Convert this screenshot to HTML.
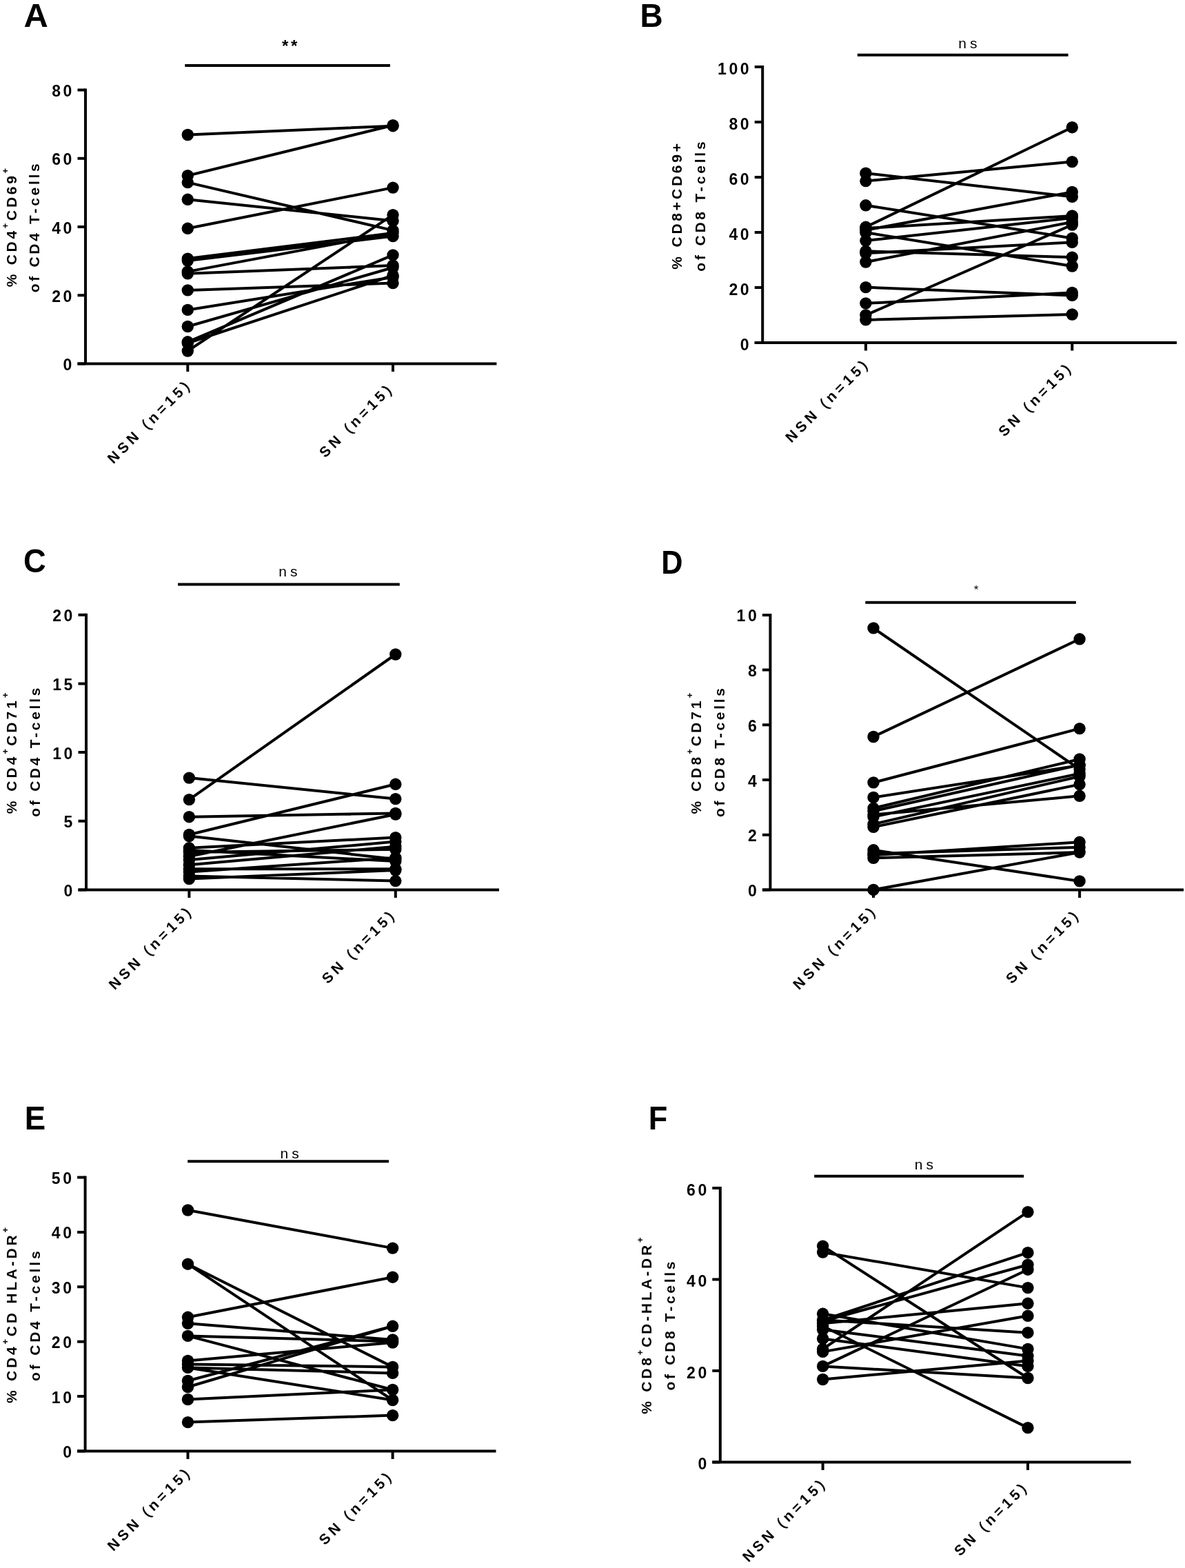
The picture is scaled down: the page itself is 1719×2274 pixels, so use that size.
<!DOCTYPE html>
<html><head><meta charset="utf-8"><title>Figure</title><style>
html,body{margin:0;padding:0;background:#fff;}
svg{display:block;}
text{font-family:"Liberation Sans", Arial, Helvetica, sans-serif;fill:#000;}
.let{font-size:47.5px;font-weight:bold;}
.tl{font-size:23px;font-weight:bold;text-anchor:end;letter-spacing:3.6px;}
.yl{font-size:21px;font-weight:bold;text-anchor:middle;letter-spacing:3.7px;}
.yl .sup{font-size:13px;}
.xl{font-size:21px;font-weight:bold;text-anchor:end;letter-spacing:5.0px;}
.pr{font-weight:normal;stroke:#000;stroke-width:0.6px;}
.ns{font-size:21px;text-anchor:middle;letter-spacing:5px;}
.sgb{font-weight:bold;text-anchor:middle;letter-spacing:3.5px;}
.sg{text-anchor:middle;}
.ax{stroke:#000;stroke-width:4;fill:none;stroke-linecap:butt;}
.dl{stroke:#000;stroke-width:4;fill:none;}
.dt circle{fill:#000;}
</style></head>
<body><svg width="1719" height="2274" viewBox="0 0 1719 2274">
<rect width="1719" height="2274" fill="#fff"/>
<text class="let" transform="translate(34.6 39.1) scale(1.03 1)">A</text>
<path class="ax" d="M124 128.5V527.5M112.5 527.5H720.4"/>
<text class="tl" x="108" y="537">0</text>
<text class="tl" x="108" y="437.8">20</text>
<text class="tl" x="108" y="338.5">40</text>
<text class="tl" x="108" y="239.2">60</text>
<text class="tl" x="108" y="140">80</text>
<path class="ax" d="M112.5 527.5H124M112.5 428.2H124M112.5 329H124M112.5 229.8H124M112.5 130.5H124M272.3 527.5V539M570 527.5V539"/>
<text class="yl yl1" transform="translate(23.9 328.2) rotate(-90)" style="letter-spacing:3.7px">% CD4<tspan class="sup" dy="-12">+</tspan><tspan dy="12">CD69</tspan><tspan class="sup" dy="-12">+</tspan></text>
<text class="yl" transform="translate(57.2 329) rotate(-90)" style="letter-spacing:3.7px">of CD4 T-cells</text>
<text class="xl" transform="translate(279.4 558.5) rotate(-45)">NSN <tspan class="pr">(</tspan>n=15<tspan class="pr">)</tspan></text>
<text class="xl" transform="translate(572.5 564) rotate(-45)">SN <tspan class="pr">(</tspan>n=15<tspan class="pr">)</tspan></text>
<path class="ax" d="M268.3 95H565.9"/>
<text class="sgb" x="421.9" y="74.7" font-size="24">**</text>
<path class="dl" d="M272.3 195.5L570 182.7M272.3 254.7L570 181.7M272.3 264.6L570 334.1M272.3 289.3L570 320.3M272.3 331.3L570 272.1M272.3 375.1L570 338M272.3 378.1L570 342.6M272.3 393.9L570 338M272.3 396.8L570 385M272.3 420.9L570 410.6M272.3 449.4L570 402M272.3 473.5L570 388M272.3 495.8L570 369.9M272.3 497.5L570 399.5M272.3 509L570 311.6"/>
<g class="dt"><circle cx="272.3" cy="195.5" r="8.7"/><circle cx="272.3" cy="254.7" r="8.7"/><circle cx="272.3" cy="264.6" r="8.7"/><circle cx="272.3" cy="289.3" r="8.7"/><circle cx="272.3" cy="331.3" r="8.7"/><circle cx="272.3" cy="375.1" r="8.7"/><circle cx="272.3" cy="378.1" r="8.7"/><circle cx="272.3" cy="393.9" r="8.7"/><circle cx="272.3" cy="396.8" r="8.7"/><circle cx="272.3" cy="420.9" r="8.7"/><circle cx="272.3" cy="449.4" r="8.7"/><circle cx="272.3" cy="473.5" r="8.7"/><circle cx="272.3" cy="495.8" r="8.7"/><circle cx="272.3" cy="497.5" r="8.7"/><circle cx="272.3" cy="509" r="8.7"/><circle cx="570" cy="181.7" r="8.7"/><circle cx="570" cy="182.7" r="8.7"/><circle cx="570" cy="272.1" r="8.7"/><circle cx="570" cy="311.6" r="8.7"/><circle cx="570" cy="320.3" r="8.7"/><circle cx="570" cy="334.1" r="8.7"/><circle cx="570" cy="338" r="8.7"/><circle cx="570" cy="342.6" r="8.7"/><circle cx="570" cy="369.9" r="8.7"/><circle cx="570" cy="385" r="8.7"/><circle cx="570" cy="388" r="8.7"/><circle cx="570" cy="399.5" r="8.7"/><circle cx="570" cy="402" r="8.7"/><circle cx="570" cy="410.6" r="8.7"/></g>
<text class="let" transform="translate(928.4 39.1) scale(0.965 1)">B</text>
<path class="ax" d="M1106.2 94.9V496.9M1094.7 496.9H1707"/>
<text class="tl" x="1090.2" y="507.7">0</text>
<text class="tl" x="1090.2" y="427.7">20</text>
<text class="tl" x="1090.2" y="347.7">40</text>
<text class="tl" x="1090.2" y="267.7">60</text>
<text class="tl" x="1090.2" y="187.7">80</text>
<text class="tl" x="1090.2" y="107.7">100</text>
<path class="ax" d="M1094.7 496.9H1106.2M1094.7 416.9H1106.2M1094.7 336.9H1106.2M1094.7 256.9H1106.2M1094.7 176.9H1106.2M1094.7 96.9H1106.2M1255.9 496.9V508.4M1555.3 496.9V508.4"/>
<text class="yl yl1" transform="translate(989.4 297.4) rotate(-90)" style="letter-spacing:3.8px">% CD8+CD69+</text>
<text class="yl" transform="translate(1023.2 297.6) rotate(-90)" style="letter-spacing:3.8px">of CD8 T-cells</text>
<text class="xl" transform="translate(1263 527.9) rotate(-45)">NSN <tspan class="pr">(</tspan>n=15<tspan class="pr">)</tspan></text>
<text class="xl" transform="translate(1557.8 533.4) rotate(-45)">SN <tspan class="pr">(</tspan>n=15<tspan class="pr">)</tspan></text>
<path class="ax" d="M1243.8 79.7H1549.6"/>
<text class="ns" x="1406.4" y="69.9">ns</text>
<path class="dl" d="M1255.9 251.2L1555.3 285.3M1255.9 262.6L1555.3 234.6M1255.9 297.8L1555.3 345.5M1255.9 329.3L1555.3 184.7M1255.9 331L1555.3 313M1255.9 333.7L1555.3 278.4M1255.9 337.2L1555.3 386M1255.9 349.1L1555.3 316M1255.9 364.3L1555.3 373.1M1255.9 367.2L1555.3 351.4M1255.9 380L1555.3 322M1255.9 416.6L1555.3 428.4M1255.9 439.9L1555.3 424.5M1255.9 457L1555.3 326M1255.9 463.9L1555.3 456"/>
<g class="dt"><circle cx="1255.9" cy="251.2" r="8.7"/><circle cx="1255.9" cy="262.6" r="8.7"/><circle cx="1255.9" cy="297.8" r="8.7"/><circle cx="1255.9" cy="329.3" r="8.7"/><circle cx="1255.9" cy="331" r="8.7"/><circle cx="1255.9" cy="333.7" r="8.7"/><circle cx="1255.9" cy="337.2" r="8.7"/><circle cx="1255.9" cy="349.1" r="8.7"/><circle cx="1255.9" cy="364.3" r="8.7"/><circle cx="1255.9" cy="367.2" r="8.7"/><circle cx="1255.9" cy="380" r="8.7"/><circle cx="1255.9" cy="416.6" r="8.7"/><circle cx="1255.9" cy="439.9" r="8.7"/><circle cx="1255.9" cy="457" r="8.7"/><circle cx="1255.9" cy="463.9" r="8.7"/><circle cx="1555.3" cy="184.7" r="8.7"/><circle cx="1555.3" cy="234.6" r="8.7"/><circle cx="1555.3" cy="278.4" r="8.7"/><circle cx="1555.3" cy="285.3" r="8.7"/><circle cx="1555.3" cy="313" r="8.7"/><circle cx="1555.3" cy="316" r="8.7"/><circle cx="1555.3" cy="322" r="8.7"/><circle cx="1555.3" cy="326" r="8.7"/><circle cx="1555.3" cy="345.5" r="8.7"/><circle cx="1555.3" cy="351.4" r="8.7"/><circle cx="1555.3" cy="373.1" r="8.7"/><circle cx="1555.3" cy="386" r="8.7"/><circle cx="1555.3" cy="424.5" r="8.7"/><circle cx="1555.3" cy="428.4" r="8.7"/><circle cx="1555.3" cy="456" r="8.7"/></g>
<text class="let" transform="translate(33.9 830.2) scale(0.955 1)">C</text>
<path class="ax" d="M125 889.7V1290.5M113.5 1290.5H724"/>
<text class="tl" x="109" y="1300">0</text>
<text class="tl" x="109" y="1200.3">5</text>
<text class="tl" x="109" y="1100.6">10</text>
<text class="tl" x="109" y="1000.9">15</text>
<text class="tl" x="109" y="901.2">20</text>
<path class="ax" d="M113.5 1290.5H125M113.5 1190.8H125M113.5 1091.1H125M113.5 991.4H125M113.5 891.7H125M274.4 1290.5V1302M573.8 1290.5V1302"/>
<text class="yl yl1" transform="translate(23.9 1090.3) rotate(-90)" style="letter-spacing:4.05px">% CD4<tspan class="sup" dy="-12">+</tspan><tspan dy="12">CD71</tspan><tspan class="sup" dy="-12">+</tspan></text>
<text class="yl" transform="translate(57.7 1089.3) rotate(-90)" style="letter-spacing:3.7px">of CD4 T-cells</text>
<text class="xl" transform="translate(281.5 1321.5) rotate(-45)">NSN <tspan class="pr">(</tspan>n=15<tspan class="pr">)</tspan></text>
<text class="xl" transform="translate(576.3 1327) rotate(-45)">SN <tspan class="pr">(</tspan>n=15<tspan class="pr">)</tspan></text>
<path class="ax" d="M258.1 847.5H579.8"/>
<text class="ns" x="420.3" y="836.4">ns</text>
<path class="dl" d="M274.4 1128.1L573.8 1158.6M274.4 1159.6L573.8 949M274.4 1184.7L573.8 1179.4M274.4 1210.5L573.8 1137.3M274.4 1212.5L573.8 1246M274.4 1229.8L573.8 1214.6M274.4 1232.9L573.8 1249.1M274.4 1242L573.8 1181M274.4 1247.1L573.8 1220.6M274.4 1254.2L573.8 1227.8M274.4 1260.3L573.8 1260.3M274.4 1264.4L573.8 1244M274.4 1270.5L573.8 1277.6M274.4 1274.5L573.8 1262M274.4 1236L573.8 1231.8"/>
<g class="dt"><circle cx="274.4" cy="1128.1" r="8.7"/><circle cx="274.4" cy="1159.6" r="8.7"/><circle cx="274.4" cy="1184.7" r="8.7"/><circle cx="274.4" cy="1210.5" r="8.7"/><circle cx="274.4" cy="1212.5" r="8.7"/><circle cx="274.4" cy="1229.8" r="8.7"/><circle cx="274.4" cy="1232.9" r="8.7"/><circle cx="274.4" cy="1236" r="8.7"/><circle cx="274.4" cy="1242" r="8.7"/><circle cx="274.4" cy="1247.1" r="8.7"/><circle cx="274.4" cy="1254.2" r="8.7"/><circle cx="274.4" cy="1260.3" r="8.7"/><circle cx="274.4" cy="1264.4" r="8.7"/><circle cx="274.4" cy="1270.5" r="8.7"/><circle cx="274.4" cy="1274.5" r="8.7"/><circle cx="573.8" cy="949" r="8.7"/><circle cx="573.8" cy="1137.3" r="8.7"/><circle cx="573.8" cy="1158.6" r="8.7"/><circle cx="573.8" cy="1179.4" r="8.7"/><circle cx="573.8" cy="1181" r="8.7"/><circle cx="573.8" cy="1214.6" r="8.7"/><circle cx="573.8" cy="1220.6" r="8.7"/><circle cx="573.8" cy="1227.8" r="8.7"/><circle cx="573.8" cy="1231.8" r="8.7"/><circle cx="573.8" cy="1244" r="8.7"/><circle cx="573.8" cy="1246" r="8.7"/><circle cx="573.8" cy="1249.1" r="8.7"/><circle cx="573.8" cy="1260.3" r="8.7"/><circle cx="573.8" cy="1262" r="8.7"/><circle cx="573.8" cy="1277.6" r="8.7"/></g>
<text class="let" transform="translate(959.3 831.7) scale(0.91 1)">D</text>
<path class="ax" d="M1117.4 889.9V1290.4M1105.9 1290.4H1717"/>
<text class="tl" x="1101.4" y="1299.9">0</text>
<text class="tl" x="1101.4" y="1220.2">2</text>
<text class="tl" x="1101.4" y="1140.5">4</text>
<text class="tl" x="1101.4" y="1060.8">6</text>
<text class="tl" x="1101.4" y="981.1">8</text>
<text class="tl" x="1101.4" y="901.4">10</text>
<path class="ax" d="M1105.9 1290.4H1117.4M1105.9 1210.7H1117.4M1105.9 1131H1117.4M1105.9 1051.3H1117.4M1105.9 971.6H1117.4M1105.9 891.9H1117.4M1267 1290.4V1301.9M1566.1 1290.4V1301.9"/>
<text class="yl yl1" transform="translate(1016.7 1090.6) rotate(-90)" style="letter-spacing:4.05px">% CD8<tspan class="sup" dy="-12">+</tspan><tspan dy="12">CD71</tspan><tspan class="sup" dy="-12">+</tspan></text>
<text class="yl" transform="translate(1050.5 1089.7) rotate(-90)" style="letter-spacing:3.7px">of CD8 T-cells</text>
<text class="xl" transform="translate(1274.1 1321.4) rotate(-45)">NSN <tspan class="pr">(</tspan>n=15<tspan class="pr">)</tspan></text>
<text class="xl" transform="translate(1568.6 1326.9) rotate(-45)">SN <tspan class="pr">(</tspan>n=15<tspan class="pr">)</tspan></text>
<path class="ax" d="M1255.3 873.7H1560.9"/>
<text class="sg" x="1416" y="861.2" font-size="17">*</text>
<path class="dl" d="M1267 910.9L1566.1 1115.6M1267 1068.5L1566.1 926.8M1267 1134.9L1566.1 1056.6M1267 1156.4L1566.1 1110M1267 1172.1L1566.1 1101M1267 1176.3L1566.1 1109.3M1267 1181.6L1566.1 1154.3M1267 1184.7L1566.1 1121.9M1267 1195.2L1566.1 1126M1267 1199.3L1566.1 1137.6M1267 1232.8L1566.1 1277.9M1267 1240.2L1566.1 1221.3M1267 1244.4L1566.1 1236M1267 1290.4L1566.1 1236M1267 1238L1566.1 1228.7"/>
<g class="dt"><circle cx="1267" cy="910.9" r="8.7"/><circle cx="1267" cy="1068.5" r="8.7"/><circle cx="1267" cy="1134.9" r="8.7"/><circle cx="1267" cy="1156.4" r="8.7"/><circle cx="1267" cy="1172.1" r="8.7"/><circle cx="1267" cy="1176.3" r="8.7"/><circle cx="1267" cy="1181.6" r="8.7"/><circle cx="1267" cy="1184.7" r="8.7"/><circle cx="1267" cy="1195.2" r="8.7"/><circle cx="1267" cy="1199.3" r="8.7"/><circle cx="1267" cy="1232.8" r="8.7"/><circle cx="1267" cy="1238" r="8.7"/><circle cx="1267" cy="1240.2" r="8.7"/><circle cx="1267" cy="1244.4" r="8.7"/><circle cx="1267" cy="1290.4" r="8.7"/><circle cx="1566.1" cy="926.8" r="8.7"/><circle cx="1566.1" cy="1056.6" r="8.7"/><circle cx="1566.1" cy="1101" r="8.7"/><circle cx="1566.1" cy="1109.3" r="8.7"/><circle cx="1566.1" cy="1110" r="8.7"/><circle cx="1566.1" cy="1115.6" r="8.7"/><circle cx="1566.1" cy="1121.9" r="8.7"/><circle cx="1566.1" cy="1126" r="8.7"/><circle cx="1566.1" cy="1137.6" r="8.7"/><circle cx="1566.1" cy="1154.3" r="8.7"/><circle cx="1566.1" cy="1221.3" r="8.7"/><circle cx="1566.1" cy="1228.7" r="8.7"/><circle cx="1566.1" cy="1236" r="8.7"/><circle cx="1566.1" cy="1277.9" r="8.7"/></g>
<text class="let" transform="translate(35.8 1638.3) scale(0.96 1)">E</text>
<path class="ax" d="M123.6 1705.5V2104.5M112.1 2104.5H719.5"/>
<text class="tl" x="107.6" y="2114">0</text>
<text class="tl" x="107.6" y="2034.6">10</text>
<text class="tl" x="107.6" y="1955.2">20</text>
<text class="tl" x="107.6" y="1875.8">30</text>
<text class="tl" x="107.6" y="1796.4">40</text>
<text class="tl" x="107.6" y="1717">50</text>
<path class="ax" d="M112.1 2104.5H123.6M112.1 2025.1H123.6M112.1 1945.7H123.6M112.1 1866.3H123.6M112.1 1786.9H123.6M112.1 1707.5H123.6M272.5 2104.5V2116M569.6 2104.5V2116"/>
<text class="yl yl1" transform="translate(23.8 1905.6) rotate(-90)" style="letter-spacing:3.78px">% CD4<tspan class="sup" dy="-12">+</tspan><tspan dy="12">CD HLA-DR</tspan><tspan class="sup" dy="-12">+</tspan></text>
<text class="yl" transform="translate(57.6 1906.8) rotate(-90)" style="letter-spacing:3.82px">of CD4 T-cells</text>
<text class="xl" transform="translate(279.6 2135.5) rotate(-45)">NSN <tspan class="pr">(</tspan>n=15<tspan class="pr">)</tspan></text>
<text class="xl" transform="translate(572.1 2141) rotate(-45)">SN <tspan class="pr">(</tspan>n=15<tspan class="pr">)</tspan></text>
<path class="ax" d="M272.2 1684.3H564"/>
<text class="ns" x="422.6" y="1679.8">ns</text>
<path class="dl" d="M272.5 1755L569.6 1810.1M272.5 1833.2L569.6 2030.5M272.5 1833.2L569.6 1982.4M272.5 1910.3L569.6 1852.2M272.5 1919.3L569.6 1943M272.5 1937.4L569.6 1945.4M272.5 1937.4L569.6 2015.5M272.5 1973.4L569.6 1947M272.5 1978.4L569.6 1982.4M272.5 1983.4L569.6 1991.4M272.5 1983.4L569.6 2030.5M272.5 2002.5L569.6 1923.3M272.5 2011.5L569.6 1923.3M272.5 2029.5L569.6 2015.5M272.5 2062.6L569.6 2052.6"/>
<g class="dt"><circle cx="272.5" cy="1755" r="8.7"/><circle cx="272.5" cy="1833.2" r="8.7"/><circle cx="272.5" cy="1910.3" r="8.7"/><circle cx="272.5" cy="1919.3" r="8.7"/><circle cx="272.5" cy="1937.4" r="8.7"/><circle cx="272.5" cy="1973.4" r="8.7"/><circle cx="272.5" cy="1978.4" r="8.7"/><circle cx="272.5" cy="1983.4" r="8.7"/><circle cx="272.5" cy="2002.5" r="8.7"/><circle cx="272.5" cy="2011.5" r="8.7"/><circle cx="272.5" cy="2029.5" r="8.7"/><circle cx="272.5" cy="2062.6" r="8.7"/><circle cx="569.6" cy="1810.1" r="8.7"/><circle cx="569.6" cy="1852.2" r="8.7"/><circle cx="569.6" cy="1923.3" r="8.7"/><circle cx="569.6" cy="1943" r="8.7"/><circle cx="569.6" cy="1945.4" r="8.7"/><circle cx="569.6" cy="1947" r="8.7"/><circle cx="569.6" cy="1982.4" r="8.7"/><circle cx="569.6" cy="1991.4" r="8.7"/><circle cx="569.6" cy="2015.5" r="8.7"/><circle cx="569.6" cy="2030.5" r="8.7"/><circle cx="569.6" cy="2052.6" r="8.7"/></g>
<text class="let" transform="translate(940.8 1638.3) scale(0.95 1)">F</text>
<path class="ax" d="M1044.8 1720.9V2120.4M1033.3 2120.4H1640.6"/>
<text class="tl" x="1028.8" y="2131.2">0</text>
<text class="tl" x="1028.8" y="1998.7">20</text>
<text class="tl" x="1028.8" y="1866.2">40</text>
<text class="tl" x="1028.8" y="1733.7">60</text>
<path class="ax" d="M1033.3 2120.4H1044.8M1033.3 1987.9H1044.8M1033.3 1855.4H1044.8M1033.3 1722.9H1044.8M1193.6 2120.4V2131.9M1491 2120.4V2131.9"/>
<text class="yl yl1" transform="translate(945.1 1920.7) rotate(-90)" style="letter-spacing:3.78px">% CD8<tspan class="sup" dy="-12">+</tspan><tspan dy="12">CD-HLA-DR</tspan><tspan class="sup" dy="-12">+</tspan></text>
<text class="yl" transform="translate(978.5 1921.2) rotate(-90)" style="letter-spacing:3.7px">of CD8 T-cells</text>
<text class="xl" transform="translate(1200.7 2151.4) rotate(-45)">NSN <tspan class="pr">(</tspan>n=15<tspan class="pr">)</tspan></text>
<text class="xl" transform="translate(1493.5 2156.9) rotate(-45)">SN <tspan class="pr">(</tspan>n=15<tspan class="pr">)</tspan></text>
<path class="ax" d="M1181.2 1705.8H1485.2"/>
<text class="ns" x="1342.8" y="1696.4">ns</text>
<path class="dl" d="M1193.6 1807.1L1491 1998.5M1193.6 1816.1L1491 1867.6M1193.6 1905.3L1491 1956.4M1193.6 1914.3L1491 1816.7M1193.6 1916L1491 1834.2M1193.6 1919.3L1491 1890.3M1193.6 1914.3L1491 1932.7M1193.6 1923.3L1491 2070.6M1193.6 1928.3L1491 1966.4M1193.6 1941.4L1491 1981.4M1193.6 1956.4L1491 1757.6M1193.6 1960.4L1491 1908.3M1193.6 1981.4L1491 1841.2M1193.6 1981.4L1491 1998.5M1193.6 2000.5L1491 1973.4"/>
<g class="dt"><circle cx="1193.6" cy="1807.1" r="8.7"/><circle cx="1193.6" cy="1816.1" r="8.7"/><circle cx="1193.6" cy="1905.3" r="8.7"/><circle cx="1193.6" cy="1914.3" r="8.7"/><circle cx="1193.6" cy="1916" r="8.7"/><circle cx="1193.6" cy="1919.3" r="8.7"/><circle cx="1193.6" cy="1923.3" r="8.7"/><circle cx="1193.6" cy="1928.3" r="8.7"/><circle cx="1193.6" cy="1941.4" r="8.7"/><circle cx="1193.6" cy="1956.4" r="8.7"/><circle cx="1193.6" cy="1960.4" r="8.7"/><circle cx="1193.6" cy="1981.4" r="8.7"/><circle cx="1193.6" cy="2000.5" r="8.7"/><circle cx="1491" cy="1757.6" r="8.7"/><circle cx="1491" cy="1816.7" r="8.7"/><circle cx="1491" cy="1834.2" r="8.7"/><circle cx="1491" cy="1841.2" r="8.7"/><circle cx="1491" cy="1867.6" r="8.7"/><circle cx="1491" cy="1890.3" r="8.7"/><circle cx="1491" cy="1908.3" r="8.7"/><circle cx="1491" cy="1932.7" r="8.7"/><circle cx="1491" cy="1956.4" r="8.7"/><circle cx="1491" cy="1966.4" r="8.7"/><circle cx="1491" cy="1973.4" r="8.7"/><circle cx="1491" cy="1981.4" r="8.7"/><circle cx="1491" cy="1998.5" r="8.7"/><circle cx="1491" cy="2070.6" r="8.7"/></g>
</svg></body></html>
